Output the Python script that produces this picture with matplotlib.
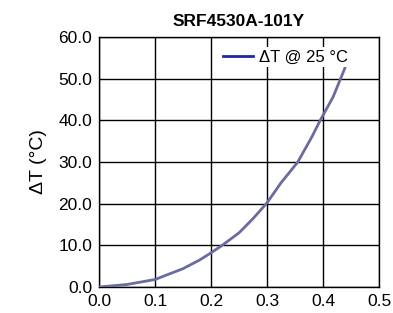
import matplotlib.pyplot as plt
from matplotlib.lines import Line2D

# current (A) vs temperature rise (degC)
current = [0.0, 0.05, 0.1, 0.15, 0.18, 0.2, 0.22, 0.25, 0.275, 0.3, 0.325, 0.355, 0.38, 0.395, 0.418, 0.439]
delta_t = [0.0, 0.6, 1.8, 4.4, 6.5, 8.2, 10.0, 13.0, 16.4, 20.2, 25.0, 30.0, 36.0, 40.0, 45.6, 52.5]

x_ticks = [0.0, 0.1, 0.2, 0.3, 0.4, 0.5]
y_ticks = [0, 10, 20, 30, 40, 50, 60]

plt.rcParams['font.family'] = ['Liberation Sans', 'DejaVu Sans']

fig = plt.figure(figsize=(3.93, 3.13), dpi=100)
ax = fig.add_axes([99 / 393, 1 - 287 / 313, 280 / 393, 250 / 313])

ax.plot(current, delta_t, color='#6b6b9f', lw=2, zorder=3)

ax.set_xlim(0, 0.5)
ax.set_ylim(0, 60)
ax.set_xticks(x_ticks)
ax.set_xticklabels([f"{v:.1f}" for v in x_ticks])
ax.set_yticks(y_ticks)
ax.set_yticklabels([f"{v:.1f}" for v in y_ticks])
ax.tick_params(length=0, labelsize=12.5, pad=5)
ax.grid(True, color='black', lw=1)
for s in ax.spines.values():
    s.set_color('black')
    s.set_linewidth(1)

ax.set_title("SRF4530A-101Y", fontsize=12.5, fontweight='bold', pad=8)
ax.set_ylabel("ΔT (°C)", fontsize=14, labelpad=8)

handle = Line2D([], [], color='#1c2a9c', lw=2)
leg = ax.legend([handle], ["ΔT @ 25 °C"], loc='upper right', fontsize=12,
                frameon=True, facecolor='white', edgecolor='none', framealpha=1,
                fancybox=False, handlelength=1.8, handletextpad=0.4,
                borderpad=0.15, borderaxespad=0.6, bbox_to_anchor=(0.935, 1.0))
leg.set_zorder(4)

fig.savefig("out.png", dpi=100)
